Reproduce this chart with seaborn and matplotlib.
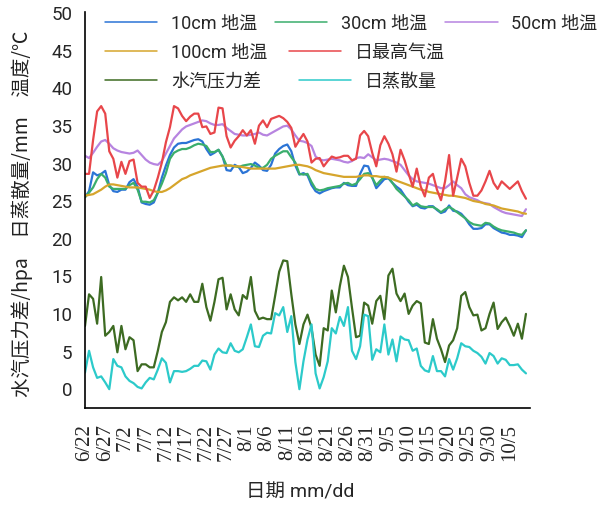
import numpy as np
import pandas as pd
import matplotlib
matplotlib.use("Agg")
import matplotlib.pyplot as plt
import seaborn as sns

# ---------------- data (daily from 6/22) ----------------
tick_labels = ["6/22", "6/27", "7/2", "7/7", "7/12", "7/17", "7/22", "7/27", "8/1", "8/6",
               "8/11", "8/16", "8/21", "8/26", "8/31", "9/5", "9/10", "9/15", "9/20",
               "9/25", "9/30", "10/5"]

soil10 = [25.4, 26.2, 28.7, 28.3, 28.5, 28.9, 27.0, 26.2, 26.1, 26.4, 26.4, 27.4, 27.8, 26.8,
          24.7, 24.5, 24.4, 24.7, 26.0, 28.0, 29.6, 31.0, 32.0, 32.5, 32.6, 32.6, 32.8, 33.0,
          33.1, 32.8, 31.8, 31.0, 31.3, 31.7, 30.8, 29.0, 28.9, 29.7, 29.4, 28.6, 28.8, 29.3,
          30.0, 29.6, 29.0, 28.9, 29.7, 31.2, 31.8, 32.2, 32.4, 31.5, 29.6, 28.4, 28.6, 28.3,
          27.0, 26.2, 25.9, 26.2, 26.4, 26.6, 26.7, 26.7, 27.3, 27.0, 26.9, 26.9, 28.5, 29.6,
          29.5, 28.0, 26.6, 27.2, 27.8, 27.9, 27.3, 26.8, 26.4, 25.6, 24.8, 24.2, 24.4, 24.0,
          23.9, 24.2, 24.2, 23.7, 23.3, 23.5, 24.3, 23.6, 23.5, 23.2, 22.6, 21.8, 21.2, 21.2,
          21.3, 21.8, 21.8, 21.3, 21.0, 20.7, 20.6, 20.4, 20.4, 20.3, 20.1, 21.0]

soil30 = [25.4, 26.0, 26.7, 27.8, 28.5, 28.0, 26.8, 26.5, 26.5, 26.5, 26.5, 27.0, 27.3, 26.4,
          24.8, 24.8, 24.7, 25.0, 26.0, 27.2, 28.6, 30.5, 31.3, 31.6, 31.8, 31.8, 32.0, 32.3,
          32.5, 32.4, 32.2, 31.4, 31.4, 31.7, 30.8, 29.6, 29.6, 29.5, 29.4, 29.6, 29.7, 29.8,
          29.6, 29.3, 29.3, 29.7, 30.5, 30.9, 31.2, 31.5, 31.5, 30.7, 30.0, 28.5, 28.4, 28.5,
          27.4, 26.5, 26.3, 26.4, 26.6, 26.7, 26.8, 26.9, 27.2, 27.3, 27.0, 27.2, 27.8, 28.5,
          28.6, 28.0, 27.0, 27.6, 28.1, 28.0, 27.3, 26.5, 26.0, 25.5, 25.0, 24.3, 24.6, 24.2,
          24.1, 24.1, 24.1, 23.8, 23.4, 23.8, 24.1, 23.8, 23.4, 23.0, 22.6, 22.1, 21.8, 21.7,
          21.6, 22.0, 21.9, 21.5, 21.2, 21.0, 20.9, 20.8, 20.7, 20.5, 20.4, 21.0]

soil50 = [30.9, 30.6, 31.3, 32.1, 32.8, 33.0, 32.5, 31.9, 31.6, 31.4, 31.3, 31.2, 31.3, 31.6,
          31.0, 30.4, 30.0, 29.8, 29.7, 30.2, 31.2, 32.2, 33.2, 33.8, 34.4, 34.8, 35.0, 35.2,
          35.4, 35.6, 35.5, 35.2, 35.0, 35.0, 35.1, 34.6, 34.2, 33.8, 33.7, 33.6, 33.6, 33.7,
          33.8, 34.0, 33.7, 33.6, 33.9, 34.2, 34.5, 34.8, 34.9, 34.4, 33.6, 32.9, 32.8, 32.6,
          32.2, 30.8, 30.4, 30.3, 30.4, 30.5, 30.4, 30.3, 30.1, 30.0, 30.2, 30.6, 30.7, 30.6,
          31.1, 30.7, 30.3, 30.4, 30.5, 30.4, 30.2, 30.0, 29.7, 29.0, 28.3, 27.8, 27.5, 27.4,
          27.3, 27.2, 27.0, 26.8, 26.6, 26.6, 27.0, 27.5, 27.0, 26.6, 25.8, 25.4, 25.2, 25.0,
          24.7, 24.6, 24.5, 24.1, 23.8, 23.5, 23.3, 23.2, 23.1, 23.0, 22.9, 23.8]

soil100 = [25.6, 25.7, 25.8, 26.1, 26.4, 26.8, 27.1, 27.1, 27.0, 26.9, 26.8, 26.7, 26.7, 26.7,
           26.6, 26.5, 26.4, 26.2, 26.1, 26.1, 26.3, 26.6, 27.0, 27.4, 27.8, 28.0, 28.3, 28.5,
           28.7, 28.9, 29.1, 29.3, 29.4, 29.5, 29.6, 29.6, 29.6, 29.5, 29.5, 29.4, 29.3, 29.2,
           29.2, 29.2, 29.2, 29.2, 29.2, 29.2, 29.3, 29.4, 29.5, 29.6, 29.7, 29.7, 29.6, 29.5,
           29.3, 29.0, 28.8, 28.6, 28.5, 28.4, 28.3, 28.2, 28.1, 28.1, 28.1, 28.1, 28.2, 28.3,
           28.3, 28.2, 28.2, 28.1, 28.1, 28.0, 27.8, 27.6, 27.4, 27.2, 27.0, 26.8, 26.6, 26.4,
           26.3, 26.1, 26.0, 25.9, 25.8, 25.7, 25.6, 25.6, 25.5, 25.4, 25.3, 25.1, 24.9, 24.8,
           24.7, 24.5, 24.4, 24.3, 24.1, 23.9, 23.8, 23.7, 23.6, 23.5, 23.3, 23.2]

tmax = [28.5, 28.5, 33.0, 36.8, 37.5, 36.5, 31.5, 30.5, 28.0, 30.1, 28.5, 30.2, 30.4, 27.3,
        26.8, 26.8, 25.3, 26.3, 28.0, 30.0, 32.7, 34.7, 37.5, 37.2, 36.2, 35.5, 36.1, 36.5,
        36.5, 34.7, 34.8, 33.8, 34.0, 37.3, 37.2, 33.5, 32.0, 32.9, 33.5, 34.3, 33.6, 34.3,
        32.5, 34.9, 35.6, 34.7, 35.8, 36.0, 36.2, 35.9, 35.4, 34.6, 32.1, 33.0, 33.8, 32.8,
        30.0, 30.5, 30.6, 29.5, 30.2, 30.8, 30.6, 30.7, 30.9, 30.9, 30.3, 30.5, 33.6, 34.2,
        33.5, 31.3, 29.5, 32.3, 33.5, 32.5, 31.1, 28.8, 31.7, 30.3, 28.5, 26.8, 29.2, 26.8,
        25.5, 28.0, 28.5, 26.4, 25.0, 27.5, 31.0, 25.6, 28.0, 30.5, 29.5, 27.3, 25.6, 25.6,
        26.3, 27.5, 28.9, 27.3, 26.5, 27.5, 27.0, 26.5, 27.0, 27.5, 26.2, 25.2]

vpd = [8.3, 12.5, 11.9, 8.6, 14.8, 7.0, 7.5, 8.3, 4.8, 8.3, 5.2, 6.8, 6.4, 2.3,
       3.2, 3.2, 2.8, 2.8, 5.0, 7.5, 8.8, 11.5, 12.1, 11.7, 12.1, 11.5, 12.5, 11.5,
       11.5, 13.9, 10.8, 9.0, 11.5, 14.5, 14.7, 10.5, 12.5, 10.5, 9.7, 12.4, 11.9, 14.8,
       10.3, 9.2, 9.4, 9.2, 9.2, 12.3, 15.5, 17.0, 16.9, 12.5, 8.5, 5.9, 8.5, 9.8,
       8.0, 4.5, 3.0, 8.0, 7.7, 13.0, 10.1, 13.6, 16.3, 14.8, 10.7, 6.8, 7.0, 11.4,
       11.0, 8.6, 11.6, 12.3, 9.2, 15.0, 15.9, 12.6, 11.6, 12.6, 9.9, 11.0, 11.6, 11.3,
       6.1, 5.9, 9.2, 6.6, 5.2, 3.5, 5.7, 6.4, 8.0, 12.3, 12.8, 10.8, 9.7, 9.8,
       7.7, 8.0, 9.9, 11.4, 7.9, 8.8, 9.4, 8.3, 7.0, 8.6, 6.6, 9.9]

et = [2.1, 5.0, 2.8, 1.4, 1.6, 0.8, -0.1, 3.9, 3.0, 2.8, 1.6, 1.0, 0.7, 0.2,
      0.0, 0.8, 1.4, 1.2, 2.5, 4.0, 3.4, 0.8, 2.3, 2.3, 2.2, 2.3, 2.6, 3.0,
      3.0, 3.7, 3.6, 2.5, 4.5, 5.3, 4.8, 4.7, 6.0, 5.0, 4.8, 5.2, 6.8, 8.5,
      5.6, 5.5, 7.0, 7.4, 7.3, 10.0, 9.7, 10.8, 7.5, 9.6, 3.5, -0.1, 3.6, 6.5,
      8.5, 2.0, 0.0, 1.5, 3.6, 8.0, 7.3, 9.5, 8.3, 10.8, 5.0, 3.9, 5.6, 9.8,
      9.6, 3.8, 5.2, 4.8, 8.5, 4.5, 6.5, 3.6, 6.9, 6.5, 6.4, 5.0, 5.3, 3.0,
      2.4, 2.2, 4.3, 2.3, 2.3, 1.6, 3.9, 2.5, 4.0, 6.0, 5.6, 5.5, 5.0, 4.7,
      4.2, 3.3, 4.7, 4.3, 3.3, 4.0, 3.8, 3.1, 3.1, 3.2, 2.5, 2.0]

series_names = ["10cm 地温", "30cm 地温", "50cm 地温", "100cm 地温", "日最高气温", "水汽压力差", "日蒸散量"]
series_values = [soil10, soil30, soil50, soil100, tmax, vpd, et]
series_colors = ["#2b74d6", "#3aae6c", "#b784e0", "#d6a52c", "#e8464a", "#3d6b22", "#2ccaca"]

# ---------------- figure ----------------
sns.set_style("white")
plt.rcParams["font.family"] = ["Roboto", "Noto Sans CJK SC", "DejaVu Sans"]
plt.rcParams["axes.unicode_minus"] = False

W, H = 615, 506
fig = plt.figure(figsize=(W / 100, H / 100), dpi=100)
ax = fig.add_axes([85 / W, 1 - 409 / H, 445 / W, 396 / H])

days = np.arange(len(soil10))
frames = []
for name, vals in zip(series_names, series_values):
    frames.append(pd.DataFrame({"day": days, "value": vals, "series": name}))
df = pd.concat(frames, ignore_index=True)

for name, color in zip(series_names, series_colors):
    sub = df[df["series"] == name]
    sns.lineplot(data=sub, x="day", y="value", ax=ax, color=color, lw=1.6,
                 label=name, legend=False)

ax.set_xlim(0, 110)
ax.set_ylim(-2.6, 50)
ax.set_yticks(np.arange(0, 51, 5))
ax.set_xticks(np.arange(0, 5 * len(tick_labels), 5))
ax.set_xticklabels(tick_labels, rotation=90, fontfamily="Liberation Serif", fontsize=15)
ax.set_xlabel("")
ax.set_ylabel("")
for lab in ax.get_yticklabels():
    lab.set_fontsize(13.5)

for s in ["top", "right"]:
    ax.spines[s].set_visible(False)
for s in ["left", "bottom"]:
    ax.spines[s].set_color("black")
    ax.spines[s].set_linewidth(1.2)
ax.tick_params(axis="both", direction="in", color="black", width=1.2)
ax.tick_params(axis="y", length=9, pad=9)
ax.tick_params(axis="x", length=7, pad=11)

if ax.get_legend() is not None:
    ax.get_legend().remove()

handles, labels = ax.get_legend_handles_labels()
rows = [(slice(0, 3), 24, 1.0), (slice(3, 5), 53, 1.2), (slice(5, 7), 82, 2.1)]
for sl, ypx, cs in rows:
    leg = fig.legend(handles[sl], labels[sl], ncol=len(labels[sl]), loc="center left",
                     bbox_to_anchor=(105 / W, 1 - ypx / H), frameon=False,
                     borderpad=0, borderaxespad=0, handlelength=2.9,
                     handletextpad=0.75, columnspacing=cs, fontsize=13)
    for ln in leg.get_lines():
        ln.set_linewidth(1.1)

fig.text(300 / W, 1 - 493 / H, "日期 mm/dd", ha="center", va="center", fontsize=14)
fig.text(22 / W, 1 - 214 / H, "水汽压力差/hpa　日蒸散量/mm　温度/℃", rotation=90,
         ha="center", va="center", fontsize=14, color="#222222",
         family=["Noto Sans CJK SC", "DejaVu Sans"])

fig.savefig("out.png", dpi=100)
